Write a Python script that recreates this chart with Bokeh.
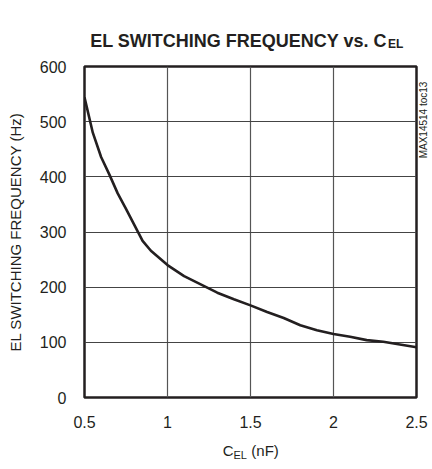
import math
from bokeh.plotting import figure
from bokeh.models import Range1d, Label, FixedTicker
from bokeh.layouts import column, row
from bokeh.embed import file_html
from bokeh.resources import INLINE

# data
cap_nf = [0.5, 0.55, 0.6, 0.65, 0.7, 0.75, 0.8, 0.85, 0.9, 1.0, 1.1, 1.2, 1.3,
          1.4, 1.5, 1.6, 1.7, 1.8, 1.9, 2.0, 2.1, 2.2, 2.3, 2.4, 2.5]
freq_hz = [544, 480, 436, 404, 370, 342, 313, 284, 266, 240, 220, 205, 190,
           178, 167, 155, 144, 131, 122, 115, 110, 104, 101, 96, 91]
x_ticks = [0.5, 1, 1.5, 2, 2.5]
y_ticks = [0, 100, 200, 300, 400, 500, 600]

FONT = "Liberation Sans"
INK = "#231f20"


def add_label(fig, x, y, text, size, style="normal", align="left", angle=0.0,
              baseline="alphabetic"):
    fig.add_layout(Label(x=x, y=y, text=text, text_font=FONT, text_font_size=size,
                         text_font_style=style, text_align=align, angle=angle,
                         text_baseline=baseline, text_color=INK))


def blank(width, height, x_range, y_range, **kw):
    f = figure(width=width, height=height, output_backend="svg", toolbar_location=None,
               x_range=x_range, y_range=y_range, x_axis_type=None, y_axis_type=None,
               min_border=0, **kw)
    f.outline_line_color = None
    f.grid.visible = False
    return f


# ---- title strip (pixel coordinates, y measured downward)
title_fig = blank(430, 56, Range1d(0, 430), Range1d(56, 0))
add_label(title_fig, 392, 40, "EL SWITCHING FREQUENCY vs. C", "18px", "bold", "right")
add_label(title_fig, 393, 43, "EL", "12px", "bold", "left")

# ---- main chart
p = figure(width=418, height=353, output_backend="svg", toolbar_location=None,
           x_range=Range1d(0.5, 2.5), y_range=Range1d(0, 600),
           min_border_left=84, min_border_right=2, min_border_top=10,
           min_border_bottom=12)
p.line(cap_nf, freq_hz, line_width=2.6, line_color=INK)
p.outline_line_color = INK
p.outline_line_width = 2.5

p.xaxis.visible = False
yax = p.yaxis[0]
yax.ticker = FixedTicker(ticks=y_ticks)
yax.axis_line_color = None
yax.major_tick_line_color = None
yax.minor_tick_line_color = None
yax.major_label_text_font = FONT
yax.major_label_text_font_size = "16px"
yax.major_label_text_color = INK
yax.major_label_standoff = 12
yax.axis_label = "EL SWITCHING FREQUENCY (Hz)"
yax.axis_label_text_font = FONT
yax.axis_label_text_font_style = "normal"
yax.axis_label_text_font_size = "15px"
yax.axis_label_text_color = INK
yax.axis_label_standoff = 13

p.xgrid.ticker = FixedTicker(ticks=x_ticks)
p.ygrid.ticker = FixedTicker(ticks=y_ticks)
p.xgrid.grid_line_color = "#555555"
p.ygrid.grid_line_color = "#444444"
p.xgrid.grid_line_width = 1.2
p.ygrid.grid_line_width = 1.2

# ---- side strip with the figure id
side_fig = blank(12, 353, Range1d(0, 12), Range1d(353, 0))
add_label(side_fig, 5, 57, "MAX14514 toc13", "10px", "normal", "center",
          math.pi / 2, "middle")

# ---- bottom strip: x tick labels (real axis) and x axis title
bot = figure(width=430, height=58, output_backend="svg", toolbar_location=None,
             x_range=p.x_range, y_range=Range1d(30, 0), x_axis_location="above",
             y_axis_type=None, min_border_left=84, min_border_right=14,
             min_border_top=28, min_border_bottom=0)
bot.outline_line_color = None
bot.grid.visible = False
xax = bot.xaxis[0]
xax.ticker = FixedTicker(ticks=x_ticks)
xax.axis_line_color = None
xax.major_tick_line_color = None
xax.minor_tick_line_color = None
xax.major_label_text_font = FONT
xax.major_label_text_font_size = "16px"
xax.major_label_text_color = INK
xax.major_label_standoff = 4

add_label(bot, 1.3976, 13, "C", "15px", "normal", "right")
add_label(bot, 1.3976, 17, "EL", "11px", "normal", "left")
add_label(bot, 1.505, 13, "(nF)", "15px", "normal", "left")

layout = column(title_fig, row(p, side_fig), bot)

open("out.html", "w").write(file_html(layout, INLINE))
